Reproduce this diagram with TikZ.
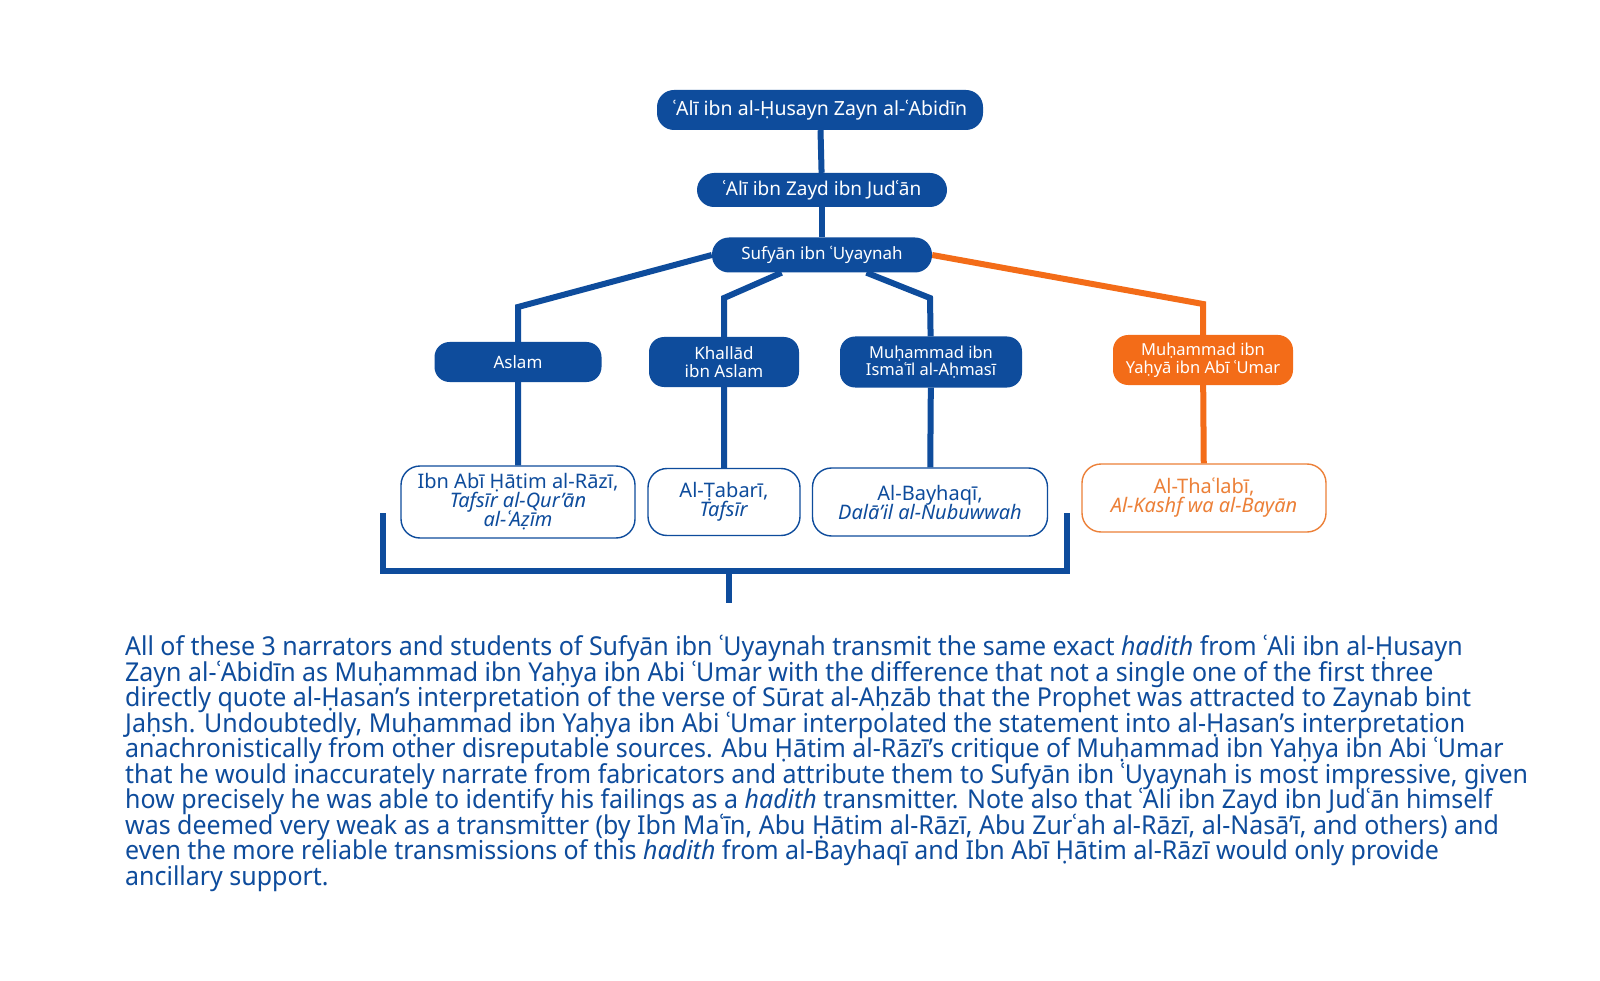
\documentclass[tikz,border=0pt]{standalone}
\usepackage{fontspec}
\setmainfont{Noto Sans}
\newfontfamily\notefont{Noto Sans}[FakeStretch=0.96]
\newcommand\notesize{\fontsize{26}{25.5}\selectfont\lineskiplimit=-30pt\relax}
\newcommand\sourcesize{\fontsize{20}{19}\selectfont\lineskiplimit=-30pt\relax}
\usetikzlibrary{backgrounds}
\definecolor{chainblue}{RGB}{14,76,156}
\definecolor{chainorange}{RGB}{243,108,24}
\definecolor{lightorange}{RGB}{236,128,56}

\begin{document}
\begin{tikzpicture}[x=1pt,y=-1pt,
  narrator/.style={fill=chainblue,text=white,rounded corners=15pt,inner sep=0pt,align=center,font=\fontsize{16.5}{17.5}\selectfont},
  chief/.style={narrator,rounded corners=17pt,font=\fontsize{17}{19}\selectfont},
  source/.style={draw=chainblue,line width=1.4pt,fill=white,text=chainblue,rounded corners=19pt,inner sep=0pt,align=center,font=\sourcesize},
  chain/.style={draw=chainblue,line width=6pt}]
\useasboundingbox (0,0) rectangle (1600,981);
\node[chief,minimum width=326pt,minimum height=40pt,font=\fontsize{19.5}{21}\selectfont] at (820,110) (zayn) {ʿAlī ibn al-Ḥusayn Zayn al-ʿAbidīn};
\node[chief,minimum width=250pt,minimum height=34pt,font=\fontsize{19}{21}\selectfont] at (822,190) (judan) {ʿAlī ibn Zayd ibn Judʿān};
\node[chief,minimum width=220pt,minimum height=35pt] at (822,255) (sufyan) {Sufyān ibn ʿUyaynah};
\node[narrator,minimum width=167pt,minimum height=40pt,font=\fontsize{17}{18}\selectfont] at (518,362) (aslam) {Aslam};
\node[narrator,minimum width=150pt,minimum height=50pt,font=\fontsize{17}{17.5}\selectfont] at (724,362) (khallad) {Khallād\\ibn Aslam};
\node[narrator,minimum width=182pt,minimum height=51pt] at (931,362) (ahmasi) {Muḥammad ibn\\Ismaʿīl al-Aḥmasī};
\node[narrator,fill=chainorange,minimum width=180pt,minimum height=50pt] at (1203,360) (yahya) {Muḥammad ibn\\Yaḥyā ibn Abī ʿUmar};
\node[source,minimum width=234pt,minimum height=72pt] at (518,502) (razi) {Ibn Abī Ḥātim al-Rāzī,\\\textit{Tafsīr al-Qur’ān}\\\textit{al-ʿAẓīm}};
\node[source,minimum width=152pt,minimum height=67pt] at (724,502) (tabari) {Al-Ṭabarī,\\\textit{Tafsīr}};
\node[source,minimum width=235pt,minimum height=68pt] at (930,502) (bayhaqi) {Al-Bayhaqī,\\\textit{Dalā’il al-Nubuwwah}};
\node[source,draw=lightorange,text=lightorange,minimum width=244pt,minimum height=68pt] at (1204,498) (thalabi) {Al-Thaʿlabī,\\\textit{Al-Kashf wa al-Bayān}};
\coordinate (aslambend) at (518,307);
\coordinate (khalladbend) at (724,298);
\coordinate (ahmasibend) at (930,298);
\coordinate (yahyabend) at (1203,304);
\coordinate (bracketL) at (383,513);
\coordinate (bracketR) at (1067,513);
\coordinate (stemtop) at (729,571);
\coordinate (stemend) at (729,603);
\node[anchor=north west,inner sep=0pt,align=left,text=chainblue,font=\notefont\notesize] at (125,635) (note) {All of these 3 narrators and students of Sufyān ibn ʿUyaynah transmit the same exact \textit{hadith} from ʿAli ibn al-Ḥusayn\\
Zayn al-ʿAbidīn as Muḥammad ibn Yaḥya ibn Abi ʿUmar with the difference that not a single one of the first three\\
directly quote al-Ḥasan’s interpretation of the verse of Sūrat al-Aḥzāb that the Prophet was attracted to Zaynab bint\\
Jaḥsh. Undoubtedly, Muḥammad ibn Yaḥya ibn Abi ʿUmar interpolated the statement into al-Ḥasan’s interpretation\\
anachronistically from other disreputable sources. Abu Ḥātim al-Rāzī’s critique of Muḥammad ibn Yaḥya ibn Abi ʿUmar\\
that he would inaccurately narrate from fabricators and attribute them to Sufyān ibn ʿUyaynah is most impressive, given\\
how precisely he was able to identify his failings as a \textit{hadith} transmitter. Note also that ʿAli ibn Zayd ibn Judʿān himself\\
was deemed very weak as a transmitter (by Ibn Maʿīn, Abu Ḥātim al-Rāzī, Abu Zurʿah al-Rāzī, al-Nasā’ī, and others) and\\
even the more reliable transmissions of this \textit{hadith} from al-Bayhaqī and Ibn Abī Ḥātim al-Rāzī would only provide\\
ancillary support.};
\begin{pgfonlayer}{background}
\fill[white] (0,0) rectangle (1600,981);
\draw[chain] (zayn) -- (judan);
\draw[chain] (judan) -- (sufyan);
\draw[chain] (sufyan.west) -- (aslambend) -- (aslam) -- (razi);
\draw[chain] (sufyan) -- (khalladbend) -- (khallad) -- (tabari);
\draw[chain] (sufyan) -- (ahmasibend) -- (ahmasi) -- (bayhaqi);
\draw[chain,draw=chainorange] (sufyan.east) -- (yahyabend) -- (yahya) -- (thalabi);
\draw[chain] (bracketL) -- ++(0,58) -| (bracketR);
\draw[chain] (stemtop) -- (stemend);
\end{pgfonlayer}
\end{tikzpicture}
\end{document}
